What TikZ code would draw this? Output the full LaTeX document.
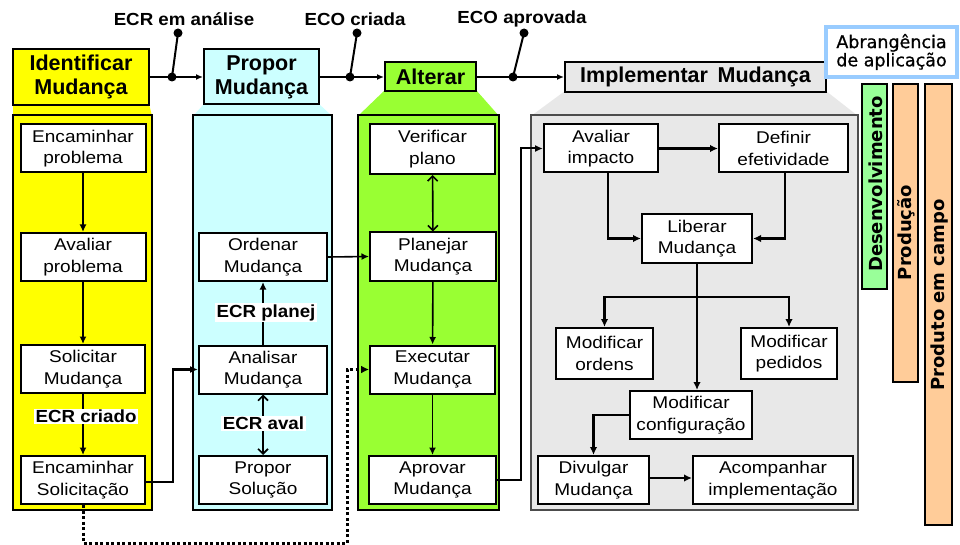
\documentclass[tikz,border=0pt]{standalone}
\usepackage{fontspec}
\setmainfont{Liberation Sans}
\newfontfamily\boxfam[FakeStretch=1.12]{Liberation Sans}
\newfontfamily\tagfam[FakeStretch=1.07]{Liberation Sans}
\newfontfamily\verdfam{DejaVu Sans}
\newfontfamily\scopefam[FakeBold=0.8]{DejaVu Sans}
\usetikzlibrary{arrows.meta}

\definecolor{hdyellow}{HTML}{FFFF00}
\definecolor{hdcyan}{HTML}{CCFFFF}
\definecolor{hdgreen}{HTML}{99FF33}
\definecolor{hdgray}{HTML}{E8E8E8}
\definecolor{scopeblue}{HTML}{99CCFF}
\definecolor{devgreen}{HTML}{99FF99}
\definecolor{peach}{HTML}{FFCC99}

\begin{document}
\begin{tikzpicture}[x=1pt,y=-1pt,
  stepbox/.style={draw, line width=2pt, fill=white, minimum height=48pt,
    inner sep=0pt, align=center, font=\boxfam\fontsize{17}{21.5}\selectfont},
  header/.style={draw, line width=2pt, inner sep=0pt, align=center,
    font=\bfseries\fontsize{21.5}{24}\selectfont},
  tag/.style={fill=white, inner sep=1.5pt, font=\tagfam\bfseries\fontsize{17.5}{20}\selectfont},
  toptag/.style={inner sep=0pt, font=\tagfam\bfseries\fontsize{17.5}{20}\selectfont},
  flow/.style={line width=1.6pt, -{Latex[length=7.5pt,width=7pt]}},
  grayflow/.style={line width=2.3pt, -{Latex[length=8pt,width=7.5pt]}},
  both/.style={line width=1.6pt, {Straight Barb[length=5pt,width=10pt,line width=1.6pt]}-{Straight Barb[length=5pt,width=10pt,line width=1.6pt]}},
  mainline/.style={line width=2.5pt, -{Latex[length=7pt,width=6pt]}},
  thickflow/.style={line width=2.5pt, -{Latex[length=8pt,width=7pt]}},
  dotflow/.style={line width=3pt, dash pattern=on 3pt off 2.5pt, -{Latex[length=8pt,width=8pt]}},
  panel/.style={line width=1.2pt},
  scopebar/.style={draw, line width=1.5pt, minimum width=25pt, inner sep=0pt},
  bartext/.style={rotate=90, inner sep=0pt, font=\verdfam\bfseries\fontsize{18}{20}\selectfont}
]
\useasboundingbox (0,0) rectangle (960,545);
\fill[white] (0,0) rectangle (960,545);

% ---- column backgrounds (funnel + panel) ----
\fill[hdyellow] (13,104) -- (149,104) -- (152,116) -- (13,116) -- cycle;
\draw[panel, fill=hdyellow] (13,115) rectangle (152,510);
\fill[hdcyan] (204,104) -- (319,104) -- (332,116) -- (193,116) -- cycle;
\draw[panel, fill=hdcyan] (193,115) rectangle (332,510);
\fill[hdgreen] (385,90) -- (476,90) -- (499,116) -- (358,116) -- cycle;
\draw[panel, fill=hdgreen] (358,115) rectangle (499,510);
\fill[hdgray] (565,91) -- (826,91) -- (858,116) -- (531,116) -- cycle;
\draw[panel, draw=black!70, fill=hdgray] (531,115) rectangle (858,510);

% ---- phase headers ----
\node[header, fill=hdyellow, minimum width=136pt, minimum height=56pt] (id) at (81,77) {Identificar\\Mudança};
\node[header, fill=hdcyan, minimum width=115pt, minimum height=55pt] (pr) at (261.5,77) {Propor\\Mudança};
\node[header, fill=hdgreen, minimum width=91pt, minimum height=29pt] (al) at (430.5,77) {Alterar};
\node[header, fill=hdgray, minimum width=261pt, minimum height=30pt] (im) at (695.5,77) {Implementar\hspace{0.45em}Mudança};

% ---- main phase line with status switches ----
\draw[mainline] (id.east) -- (pr.west);
\draw[mainline] (pr.east) -- (al.west);
\draw[mainline] (al.east) -- (im.west);
\coordinate (s1) at (172,77); \coordinate (t1) at (178,33);
\coordinate (s2) at (350,77); \coordinate (t2) at (357,33);
\coordinate (s3) at (513,77); \coordinate (t3) at (524,33);
\foreach \s/\t in {s1/t1, s2/t2, s3/t3} {
  \draw[line width=2pt] (\s) -- (\t);
  \fill (\s) circle (4.5pt);
  \fill (\t) circle (4.5pt);
}
\node[toptag] (l1) at (184,19.5) {ECR em análise};
\node[toptag] (l2) at (355,19) {ECO criada};
\node[toptag] (l3) at (522,19) {ECO aprovada};

% ---- Identificar column ----
\node[stepbox, minimum width=125pt] (ep) at (83,148.5) {Encaminhar\\problema};
\node[stepbox, minimum width=125pt] (ap) at (83,257) {Avaliar\\problema};
\node[stepbox, minimum width=124pt] (sm) at (83,369) {Solicitar\\Mudança};
\node[stepbox, minimum width=124pt] (es) at (83,480) {Encaminhar\\Solicitação};
\draw[flow] (ep) -- (ap);
\draw[flow] (ap) -- (sm);
\draw[flow] (sm) -- (es);
\node[tag] (ecrc) at (86,416.5) {ECR criado};

% ---- Propor column ----
\node[stepbox, minimum width=128pt] (om) at (263,257) {Ordenar\\Mudança};
\node[stepbox, minimum width=128pt] (am) at (263,369.5) {Analisar\\Mudança};
\node[stepbox, minimum width=128pt] (ps) at (263,480) {Propor\\Solução};
\draw[flow] (am) -- (om);
\draw[both] (am) -- (ps);
\node[tag] (ecrp) at (266,312.5) {ECR planej};
\node[tag] (ecra) at (263.5,423.5) {ECR aval};

% ---- Alterar column ----
\node[stepbox, minimum width=125pt, minimum height=50pt] (vp) at (432.5,149) {Verificar\\plano};
\node[stepbox, minimum width=126pt] (pm) at (433,256.5) {Planejar\\Mudança};
\node[stepbox, minimum width=125pt] (em) at (432.5,369.5) {Executar\\Mudança};
\node[stepbox, minimum width=127pt] (apm) at (432.5,480) {Aprovar\\Mudança};
\draw[both] (vp) -- (pm);
\draw[flow] (pm) -- (em);
\draw[flow] (em) -- (apm);

% ---- Implementar column ----
\node[stepbox, minimum width=114pt] (ai) at (601,148.5) {Avaliar\\impacto};
\node[stepbox, minimum width=129pt] (de) at (783.5,148.5) {Definir\\efetividade};
\node[stepbox, minimum width=110pt] (lm) at (697,238.5) {Liberar\\Mudança};
\node[stepbox, minimum width=97pt, minimum height=51pt] (mo) at (604.5,353.5) {Modificar\\ordens};
\node[stepbox, minimum width=96pt, minimum height=51pt] (mp) at (789,353.5) {Modificar\\pedidos};
\node[stepbox, minimum width=122pt] (mc) at (691,415) {Modificar\\configuração};
\node[stepbox, minimum width=111pt] (dm) at (593.5,480) {Divulgar\\Mudança};
\node[stepbox, minimum width=160pt] (ac) at (773,480) {Acompanhar\\implementação};
\draw[grayflow] (ai) -- (de);
\draw[grayflow] ([xshift=7pt]ai.south) |- (lm.west);
\draw[grayflow] ([xshift=1.5pt]de.south) |- (lm.east);
\draw[grayflow] (lm.south) -- (lm.south |- mc.north);
\coordinate (br) at (697,297);
\draw[grayflow] (br) -| (mo.north);
\draw[grayflow] (br) -| (mp.north);
\draw[grayflow] (mc.west) -| (dm.north);
\draw[grayflow] ([yshift=2pt]dm.east) -- ([yshift=2pt]ac.west);

% ---- links between columns ----
\draw[flow] (om.east) -- (pm.west);
\draw[thickflow] ([yshift=-2pt]es.east) -- ++(27,0) |- (am.west);
\coordinate (d1) at (83,543);
\coordinate (d2) at (347,543);
\draw[dotflow] (es.south) -- (d1) -- (d2) |- (em.west);
\draw[line width=2pt, -{Latex[length=8pt,width=7pt]}] (apm.east) -- ++(24,0) |- (ai.west);

% ---- scope of application ----
\node[draw=scopeblue, line width=4pt, fill=white, minimum width=131pt, minimum height=50pt,
  inner sep=0pt, align=center, font=\scopefam\fontsize{17.5}{15.5}\selectfont] (ab) at (891.5,52) {Abrangência\\de aplicação};
\node[scopebar, fill=devgreen, minimum height=205pt] (dv) at (874.5,186.5) {};
\node[scopebar, fill=peach, minimum height=298pt] (pd) at (905.5,233) {};
\node[scopebar, fill=peach, minimum width=27pt, minimum height=441pt] (pc) at (938.5,304.5) {};
\node[bartext] (dvt) at (875.5,184) {Desenvolvimento};
\node[bartext] (pdt) at (906.5,232.5) {Produção};
\node[bartext] (pct) at (939.5,295) {Produto em campo};
\end{tikzpicture}
\end{document}
